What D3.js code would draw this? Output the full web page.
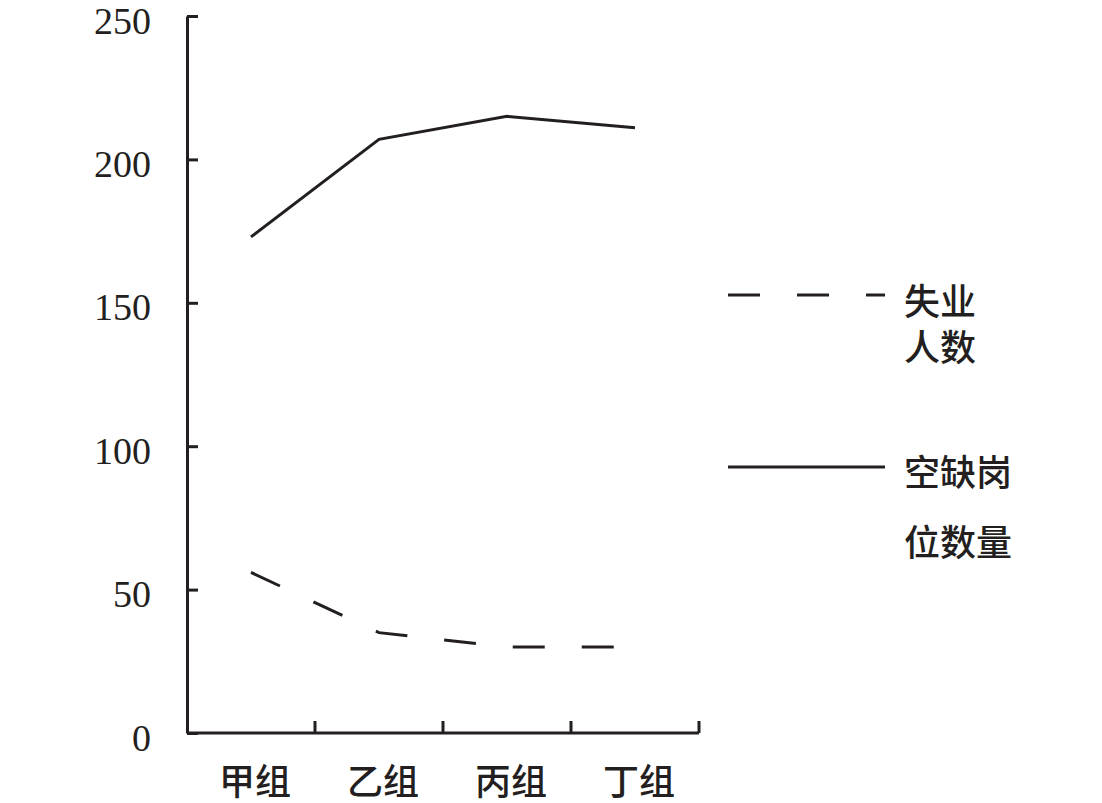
<!DOCTYPE html>
<html>
<head>
<meta charset="utf-8">
<script src="https://cdn.jsdelivr.net/npm/d3@7"></script>
<style>
body { margin: 0; background: #fff; }
</style>
</head>
<body>
<div id="chart-area"></div>
<script>
// data
var groups = ["甲组", "乙组", "丙组", "丁组"];
var unemployed = [56, 35, 30, 30];
var vacancies = [173, 207, 215, 211];
var yTicks = [0, 50, 100, 150, 200, 250];
var legendLabels = [["失业", "人数"], ["空缺岗", "位数量"]];

var ink = "#231f20";
var cjk = "'Noto Sans CJK SC', sans-serif";

var svg = d3.select("#chart-area")
    .append("svg")
        .attr("width", 1102)
        .attr("height", 803);

// Scales
var x = d3.scaleBand()
    .domain(groups)
    .range([187, 699]);
var y = d3.scaleLinear()
    .domain([0, 250])
    .range([733, 16]);

// Y Axis (ticks point inwards)
var yAxisCall = d3.axisLeft(y)
    .tickValues(yTicks)
    .tickSizeInner(-11)
    .tickSizeOuter(0)
    .tickPadding(36);
var yAxis = svg.append("g")
    .attr("transform", "translate(187,0)")
    .call(yAxisCall);
yAxis.select(".domain").attr("stroke", ink).attr("stroke-width", 3);
yAxis.selectAll(".tick line").attr("stroke", ink).attr("stroke-width", 3);
yAxis.selectAll(".tick text")
    .attr("fill", ink)
    .attr("dy", "0.45em")
    .attr("font-family", "'Liberation Serif', serif")
    .attr("font-size", "38px");

// X Axis: ticks at band edges
svg.append("line")
    .attr("x1", x.range()[0]).attr("x2", x.range()[1])
    .attr("y1", y(0)).attr("y2", y(0))
    .attr("stroke", ink)
    .attr("stroke-width", 3);
svg.selectAll(".xtick")
    .data(groups)
    .enter().append("line")
    .attr("class", "xtick")
    .attr("x1", function(d) { return x(d) + x.bandwidth(); })
    .attr("x2", function(d) { return x(d) + x.bandwidth(); })
    .attr("y1", y(0))
    .attr("y2", y(0) - 12)
    .attr("stroke", ink)
    .attr("stroke-width", 3);
svg.selectAll(".xlabel")
    .data(groups)
    .enter().append("text")
    .attr("class", "xlabel")
    .attr("x", function(d) { return x(d) + x.bandwidth() / 2 + 4; })
    .attr("y", 782)
    .attr("dy", "0.36em")
    .attr("text-anchor", "middle")
    .attr("font-family", cjk)
    .attr("font-weight", 500)
    .attr("font-size", "36px")
    .attr("fill", ink)
    .text(function(d) { return d; });

// Lines
var line = d3.line()
    .x(function(d, i) { return x(groups[i]) + x.bandwidth() / 2; })
    .y(function(d) { return y(d); });

svg.append("path")
    .attr("d", line(vacancies))
    .attr("fill", "none")
    .attr("stroke", ink)
    .attr("stroke-width", 3);
svg.append("path")
    .attr("d", line(unemployed))
    .attr("fill", "none")
    .attr("stroke", ink)
    .attr("stroke-width", 3)
    .attr("stroke-dasharray", "32,37");

// Legend
var legend = svg.append("g");
legend.append("line")
    .attr("x1", 728).attr("x2", 885)
    .attr("y1", 295).attr("y2", 295)
    .attr("stroke", ink)
    .attr("stroke-width", 3)
    .attr("stroke-dasharray", "32,37");
legend.append("line")
    .attr("x1", 728).attr("x2", 885)
    .attr("y1", 467).attr("y2", 467)
    .attr("stroke", ink)
    .attr("stroke-width", 3);

var legendY = [[302, 348], [473, 543]];
legendLabels.forEach(function(lines, i) {
    lines.forEach(function(t, j) {
        legend.append("text")
            .attr("x", 904)
            .attr("y", legendY[i][j])
            .attr("dy", "0.36em")
            .attr("font-family", cjk)
            .attr("font-weight", 500)
            .attr("font-size", "36px")
            .attr("fill", ink)
            .text(t);
    });
});
</script>
</body>
</html>
